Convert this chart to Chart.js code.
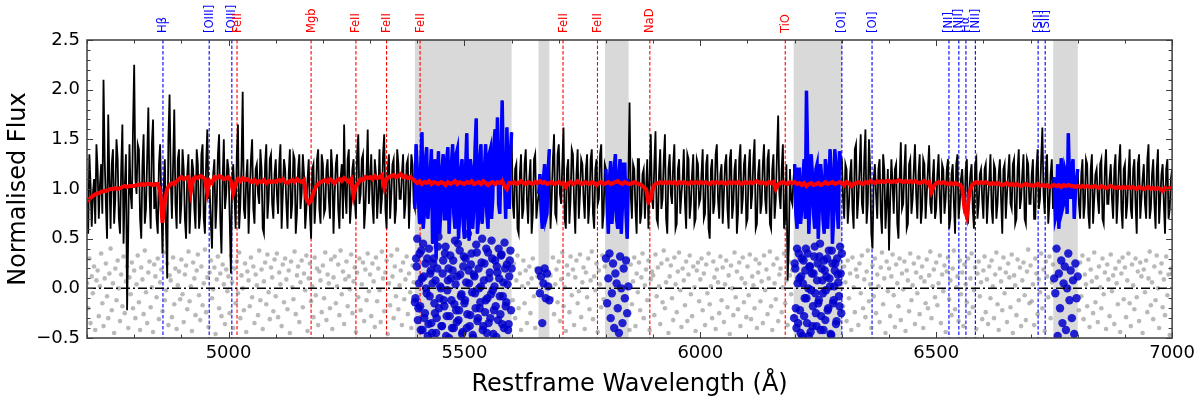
<!DOCTYPE html>
<html lang="en">
<head>
<meta charset="UTF-8">
<title>Spectrum fit</title>
<script src="https://cdn.jsdelivr.net/npm/chart.js"></script>
<style>
  html, body { margin: 0; padding: 0; background: #fff; }
</style>
</head>
<body>
<canvas id="specChart" width="1200" height="399"></canvas>

<script>
// observed spectrum, 5 A grid from 4700 to 7000
const waveStart = 4700;
const waveStep = 5;
const flux = [
  0.90,1.35,0.62,1.10,1.45,0.70,1.25,2.10,0.85,1.75,0.60,1.40,0.90,1.30,0.55,1.65,1.00,-0.22,1.45,0.80, // 4700
  2.25,0.95,1.40,0.50,1.55,0.80,1.82,0.60,1.70,1.05,0.55,1.45,0.35,1.30,0.10,1.95,0.70,1.80,0.60,1.40, // 4800
  0.85,1.20,0.50,1.35,0.90,1.20,0.60,1.25,0.75,1.45,0.55,1.60,1.00,0.40,1.30,0.85,1.55,0.35,1.50,0.95, // 4900
  1.20,0.15,1.25,0.60,1.65,0.85,1.98,0.70,1.30,0.95,1.50,0.65,1.25,0.85,1.20,0.55,1.45,0.90,1.35,0.70, // 5000
  1.30,0.75,1.45,0.95,1.20,0.60,1.40,0.85,1.30,0.75,1.35,0.95,1.15,0.80,1.30,0.50,1.25,0.90,1.40,0.65, // 5100
  1.25,0.80,1.30,0.70,1.20,0.95,1.35,0.60,1.25,1.65,0.75,1.40,0.85,1.30,0.70,1.55,0.95,1.35,0.80,1.60, // 5200
  1.10,0.85,1.30,0.70,1.40,0.90,1.55,0.60,1.35,0.95,1.30,0.80,1.25,0.90,1.35,0.85,1.30,0.95,1.25,0.80, // 5300
  1.20,0.65,1.57,0.75,1.42,0.90,1.40,0.55,0.31,1.38,0.80,1.35,0.70,1.42,0.85,1.45,0.60,1.40,0.75,1.30, // 5400
  0.50,1.56,0.48,1.20,0.80,1.71,0.70,1.45,0.85,1.45,0.60,1.40,0.90,1.60,1.72,0.75,1.89,1.10,1.62,0.80, // 5500
  1.57,0.70,1.25,0.55,1.35,0.80,1.40,0.65,1.30,0.75,1.35,0.85,1.15,0.60,1.25,0.75,1.40,0.90,1.55,0.70, // 5600
  1.45,0.85,1.62,0.60,1.30,0.90,1.35,0.55,1.40,0.95,1.25,0.70,1.35,0.85,1.40,0.60,1.30,0.90,1.45,0.75, // 5700
  1.20,0.55,1.28,0.80,1.35,0.60,1.30,0.85,1.25,0.50,1.87,0.70,1.20,0.55,1.30,0.75,1.20,1.00,0.60,1.55, // 5800
  0.80,1.58,0.65,1.40,0.90,1.55,0.55,1.35,0.85,1.45,0.65,1.30,0.95,1.40,0.60,1.30,0.85,1.35,0.70,1.25, // 5900
  0.90,1.40,0.75,1.35,0.50,1.30,0.85,1.45,0.70,1.25,0.95,1.35,0.60,1.40,0.85,1.30,0.75,1.45,0.90,1.35, // 6000
  0.70,1.40,0.95,1.50,0.65,1.30,0.85,1.45,0.75,1.40,0.60,1.35,0.90,1.74,0.80,1.45,0.70,0.08,1.20,0.85, // 6100
  1.25,0.60,1.20,0.80,1.30,1.99,0.55,1.35,0.75,1.20,0.50,1.25,0.70,1.30,0.60,1.40,0.45,1.40,0.80,1.38, // 6200
  1.30,0.70,1.20,0.85,1.30,0.60,1.45,0.90,1.55,0.75,1.60,0.85,1.20,0.40,1.25,0.70,1.30,0.55,1.20,0.85, // 6300
  0.38,1.30,0.75,1.25,0.50,1.47,0.85,1.45,0.65,1.30,0.90,1.45,0.70,1.35,0.80,1.25,0.95,1.44,0.75,1.30, // 6400
  0.80,1.35,0.65,1.20,0.90,1.30,0.70,1.25,0.55,1.35,0.85,1.20,0.75,1.30,0.95,1.25,0.60,1.30,0.85,1.20, // 6500
  0.70,1.25,0.90,1.35,0.65,1.20,0.85,1.30,0.55,1.25,0.95,1.35,0.80,1.30,0.70,1.40,0.90,1.35,0.65,1.25, // 6600
  0.85,1.30,0.70,1.40,0.90,1.62,0.75,1.35,0.85,1.30,1.12,0.75,0.60,1.31,0.85,1.15,1.56,0.90,1.30,0.95, // 6700
  1.20,0.70,1.30,0.85,1.25,0.60,1.35,0.90,1.20,0.75,1.30,0.65,1.40,0.85,1.25,0.70,1.35,0.90,1.45,0.60, // 6800
  1.25,0.85,1.40,0.70,1.30,0.55,1.35,0.90,1.25,0.70,1.45,0.80,1.30,0.60,1.40,0.90,1.25,0.55,1.30,0.80, // 6900
  1.20
];
// spectrum values half way between the points above (4702.5, 4707.5, ...)
const fluxHalf = [
  0.55,1.05,0.95,0.65,1.20,1.05,0.75,1.30,0.50,1.10,1.25,0.65,1.50,0.70,1.20,0.45,1.35,0.60,0.95,1.60, // 4700
  1.10,1.45,0.70,1.25,0.65,1.30,0.95,1.45,0.80,0.70,1.25,0.90,1.00,0.60,1.50,1.10,1.25,0.85,1.30,0.65, // 4800
  1.40,0.70,1.15,0.55,1.30,0.80,1.40,0.60,1.35,0.70,1.25,0.90,0.65,1.15,0.60,1.35,0.70,1.10,0.80,1.30, // 4900
  0.70,1.10,0.95,1.35,0.60,1.25,0.80,1.10,0.55,1.30,0.80,1.20,0.95,1.40,0.60,1.25,0.70,1.30,0.85,1.15, // 5000
  0.95,1.25,0.60,1.30,0.85,1.15,0.70,1.35,0.55,1.20,0.80,1.35,0.60,1.10,0.75,1.20,0.65,1.30,0.80,1.35, // 5100
  0.75,1.20,0.90,1.40,0.55,1.25,0.80,1.10,0.70,0.95,1.30,0.65,1.20,0.90,1.35,0.85,1.30,0.60,1.15,0.85, // 5200
  1.35,0.65,1.15,0.95,0.75,1.35,0.80,1.20,0.70,1.25,0.65,1.40,0.90,1.15,0.70,1.25,0.60,1.35,0.85,1.45, // 5300
  0.90,1.25,0.60,1.30,0.70,1.15,0.45,1.30,1.00,0.55,1.20,0.70,1.30,0.55,1.25,0.75,1.35,0.50,1.20,0.65, // 5400
  1.20,0.80,1.30,0.60,1.40,0.55,1.30,0.65,1.20,0.75,1.35,0.70,1.45,1.05,0.85,1.30,1.20,0.70,1.15,1.35, // 5500
  0.85,1.20,0.60,1.15,0.70,1.25,0.90,1.10,0.55,1.30,0.70,0.95,0.80,1.10,0.70,1.20,0.60,1.30,0.75,1.35, // 5600
  0.95,1.25,0.70,1.20,0.65,1.40,0.85,1.15,0.70,1.30,0.90,1.20,0.65,1.30,0.75,1.20,0.85,1.35,0.60,1.25, // 5700
  0.85,1.10,0.65,1.20,0.70,1.15,0.55,1.25,0.75,1.10,0.95,1.25,0.80,1.30,0.65,1.15,0.70,1.30,1.10,0.90, // 5800
  1.25,0.70,1.15,0.80,1.30,0.70,1.20,0.95,1.25,0.60,1.20,0.75,1.10,0.85,1.35,0.70,1.15,0.65,1.30,0.85, // 5900
  1.15,0.70,1.25,0.60,1.20,0.75,1.35,0.90,1.15,0.65,1.25,0.80,1.30,0.70,1.20,0.55,1.30,0.75,1.25,0.65, // 6000
  1.20,0.80,1.30,0.60,1.15,0.75,1.25,0.90,1.30,0.65,1.20,0.70,1.35,0.95,1.20,0.60,1.25,0.40,0.90,1.10, // 6100
  0.75,1.20,0.65,1.10,0.70,1.30,0.90,1.15,0.60,1.25,0.85,1.10,0.55,1.20,0.95,1.15,0.70,1.25,0.60,1.30, // 6200
  0.90,1.25,0.65,1.15,0.80,1.40,0.70,1.20,0.85,1.30,0.65,1.50,0.55,1.10,0.95,1.20,0.75,1.35,0.60,1.20, // 6300
  0.90,1.05,1.20,0.65,1.10,0.80,1.20,0.60,1.25,0.75,1.20,0.95,1.15,0.65,1.30,0.70,1.20,0.85,1.10,0.70, // 6400
  1.15,0.90,1.25,0.75,1.20,0.60,1.15,0.85,1.25,0.70,1.10,0.95,1.20,0.65,1.15,0.80,1.25,0.70,1.15,0.90, // 6500
  1.20,0.65,1.10,0.80,1.25,0.70,1.15,0.90,1.20,0.70,1.15,0.85,1.25,0.65,1.20,0.80,1.15,0.70,1.30,0.85, // 6600
  1.15,0.70,1.20,0.80,1.30,0.95,1.20,0.65,1.15,0.80,0.70,1.25,0.95,0.80,1.20,0.75,1.10,1.20,0.70,1.10, // 6700
  0.85,1.15,0.70,1.30,0.75,1.20,0.65,1.15,0.90,1.25,0.70,1.20,0.85,1.10,0.90,1.20,0.65,1.25,0.80,1.20, // 6800
  0.70,1.15,0.80,1.20,0.85,1.25,0.70,1.10,0.85,1.30,0.70,1.15,0.85,1.20,0.65,1.15,0.85,1.20,0.70,1.10  // 6900
];

// best-fit model, 5 A grid
const model = [
  0.88,0.90,0.92,0.94,0.95,0.96,0.97,0.98,0.98,0.99,1.00,1.00,1.01,1.00,1.01,1.02,1.03,1.02,1.03,1.03,
  1.03,1.04,1.04,1.05,1.04,1.05,1.05,1.05,1.04,1.05,1.05,0.98,0.66,0.88,1.00,1.04,1.06,1.05,1.08,1.10,
  1.12,1.10,1.11,1.12,0.97,1.10,1.12,1.11,1.13,1.12,1.10,0.96,1.08,1.06,1.12,1.11,1.13,1.12,1.10,1.11,
  1.12,1.08,0.96,1.05,1.10,1.08,1.11,1.09,1.10,1.08,1.07,1.09,1.06,1.08,1.07,1.09,1.06,1.08,1.07,1.08,
  1.07,1.09,1.08,1.10,1.07,1.06,1.08,1.09,1.07,1.10,1.08,1.07,1.09,0.90,0.86,0.88,0.96,1.02,1.05,1.07,
  1.08,1.09,1.07,1.10,1.08,1.06,1.09,1.10,1.08,1.11,1.09,1.07,1.10,0.93,1.03,1.06,1.10,1.09,1.12,1.11,
  1.12,1.10,1.13,1.11,1.12,1.14,1.02,1.10,1.12,1.13,1.14,1.12,1.13,1.15,1.12,1.13,1.11,1.12,1.10,1.08,
  1.06,1.08,1.05,1.07,1.06,1.08,1.05,1.07,1.06,1.05,1.07,1.06,1.04,1.07,1.05,1.06,1.08,1.05,1.07,1.06,
  1.05,1.07,1.06,1.08,1.05,1.06,1.07,1.05,1.08,1.06,1.04,1.06,1.07,1.05,1.07,1.06,1.08,1.03,1.00,1.06,
  1.06,1.07,1.05,1.06,1.08,1.06,1.05,1.07,1.06,1.05,1.07,1.06,1.08,1.06,1.07,1.05,1.06,1.07,1.05,1.06,
  1.07,1.05,1.06,1.02,1.06,1.07,1.05,1.06,1.08,1.06,1.05,1.07,1.06,1.05,1.07,1.06,1.04,1.06,1.07,1.05,
  1.06,1.07,1.05,1.06,1.07,1.08,1.06,1.05,1.07,1.06,1.05,1.06,1.07,1.06,1.05,1.04,1.02,1.00,0.87,0.90,
  1.02,1.05,1.06,1.07,1.06,1.07,1.06,1.07,1.06,1.07,1.05,1.07,1.06,1.07,1.06,1.05,1.07,1.06,1.07,1.06,
  1.07,1.06,1.07,1.06,1.05,1.07,1.06,1.07,1.06,1.07,1.06,1.05,1.07,1.06,1.07,1.06,1.07,1.05,1.06,1.07,
  1.06,1.07,1.06,1.07,1.08,1.06,1.07,1.06,1.05,1.07,1.06,1.07,1.00,1.05,1.06,1.07,1.06,1.05,1.07,1.06,
  1.07,1.05,1.06,1.04,1.06,1.03,1.05,1.06,1.04,1.05,1.06,1.04,1.05,1.07,1.05,1.06,1.07,1.05,1.06,1.07,
  1.06,1.04,1.07,1.06,1.03,1.05,1.06,1.07,1.06,1.05,1.07,1.06,1.08,1.07,1.06,1.08,1.07,1.08,1.07,1.08,
  1.08,1.07,1.08,1.07,1.09,1.08,1.07,1.08,1.07,1.08,1.07,1.08,1.07,1.06,1.07,1.08,1.06,1.07,0.97,1.03,
  1.06,1.07,1.06,1.07,1.06,1.05,1.06,1.05,1.06,1.05,1.04,1.02,0.80,0.72,0.95,1.03,1.06,1.07,1.06,1.07,
  1.06,1.07,1.06,1.05,1.06,1.05,1.06,1.05,1.04,1.05,1.06,1.04,1.05,1.04,1.05,1.04,1.03,1.04,1.05,1.04,
  1.04,1.03,1.04,1.05,1.03,1.04,1.03,1.04,1.02,1.03,1.04,1.03,1.04,1.02,1.04,1.03,1.04,1.03,1.03,1.02,
  1.03,1.02,1.03,1.02,1.03,1.02,1.02,1.03,1.02,1.01,1.03,1.02,1.01,1.02,1.03,1.02,1.01,1.02,1.01,1.02,
  1.01,1.02,1.01,1.02,1.01,1.00,1.02,1.01,1.00,1.01,1.02,1.00,1.01,1.00,1.01,1.00,0.98,1.01,1.00,1.01,
  1.00
];

// residuals, 2.5 A grid from 4700
const residStep = 2.5;
const resid = [
  .05,-.20,.30,-.35,.12,-.05,.22,-.42,.08,.18,-.28,.02,.35,-.15,-.38,.10,.25,-.08,-.30,.15,.40,-.22,.05,-.45,.20,-.12,.28,.00,-.33,.14,-.18,.32,-.25,.07,.22,-.40,.11,-.06,.26,-.20,
  .18,-.30,.04,.33,-.14,-.42,.21,.09,-.26,.38,-.04,-.35,.16,.27,-.19,.01,-.44,.24,.12,-.09,.30,-.31,.06,.19,-.23,.36,-.12,-.02,.25,-.37,.13,.08,-.29,.31,-.16,.20,-.41,.03,.17,-.11,
  .29,-.06,-.34,.14,.23,-.21,.37,-.13,.02,-.43,.26,.10,-.27,.18,.34,-.07,-.32,.22,-.17,.05,.39,-.24,.11,-.39,.16,.28,-.10,-.01,.21,-.46,.09,.32,-.20,.15,-.28,.24,.04,-.36,.19,-.03,
  .12,-.25,.33,.06,-.40,.20,-.15,.27,-.05,.36,-.30,.13,.00,-.22,.25,-.44,.17,.08,-.18,.31,-.09,.22,-.35,.14,.03,-.27,.38,-.12,.19,-.41,.07,.26,-.16,.34,-.04,-.31,.21,.11,-.23,.29,
  -.08,.35,-.29,.16,.04,-.38,.24,-.14,.30,.09,-.21,.18,-.45,.27,.01,-.11,.37,-.26,.13,.22,-.34,.06,.28,-.19,.15,-.02,.33,-.43,.10,.25,-.13,.02,-.29,.31,-.07,.20,-.37,.17,.08,-.24,
  .23,-.10,.36,-.32,.14,.05,-.20,.29,-.41,.11,.32,-.15,.02,.24,-.27,.38,-.06,.17,-.36,.09,.27,-.18,.12,-.01,.34,-.25,.07,.21,-.44,.16,-.09,.30,-.22,.04,.26,-.33,.19,-.12,.35,-.03,
  .14,-.28,.25,.07,-.39,.31,-.13,.20,-.02,-.34,.37,.10,-.23,.16,.28,-.46,.05,-.17,.33,.12,-.30,.22,-.08,.39,-.21,.03,.18,-.37,.26,-.11,.09,.32,-.26,.15,-.04,-.40,.23,.06,-.14,.30,
  .50,-.20,.35,-.42,.10,.45,-.30,.25,-.05,-.48,.40,.15,-.35,.05,.30,-.25,-.45,.20,.52,-.10,.00,-.38,.28,-.18,.42,-.28,.08,-.50,.33,-.12,.18,-.40,.48,-.22,.12,-.32,.38,-.08,-.46,.22,
  -.15,.30,-.40,.55,.05,-.27,.35,-.47,.14,-.05,.44,-.33,.20,-.20,.02,.50,-.38,.25,-.12,-.45,.36,.10,-.30,.48,-.02,-.22,.28,-.49,.16,.40,-.08,.33,-.36,.06,.46,-.18,.24,-.42,.12,.38,
  .20,-.12,.25,-.30,.08,.33,-.20,.15,-.42,.02,.28,-.15,.18,-.35,.05,.22,-.25,.10,.30,-.08,-.40,.20,.12,.18,-.05,.12,-.35,.05,.20,-.10,.15,.02,-.12,.13,-.10,.31,-.26,.04,.19,-.14,
  .27,-.33,.09,.36,-.18,.01,-.43,.23,.14,-.24,.32,-.07,.19,-.37,.11,.28,-.15,-.03,.34,-.29,.06,.21,-.41,.16,-.09,.30,-.21,.08,.37,-.31,.12,-.02,.25,-.44,.18,.04,-.19,.33,-.11,.22,
  .30,-.15,.10,.35,-.30,-.05,.25,-.40,.15,.05,-.20,-.45,.32,.00,-.35,.20,-.10,.28,-.25,.02,-.42,.24,-.16,.07,.31,-.38,.15,-.04,.26,-.22,.11,.35,-.30,.03,.19,-.12,.28,-.42,.09,.17,
  .13,-.27,.34,-.08,.21,.02,-.36,.25,-.14,.38,-.20,.06,.29,-.45,.12,.23,-.10,-.32,.31,.04,-.24,.17,.36,-.02,-.39,.20,.08,-.17,.27,-.33,.14,.33,-.06,-.28,.22,.01,-.43,.18,.26,-.13,
  .09,.30,-.22,.15,-.37,.24,-.05,.35,-.16,.02,-.30,.27,.11,-.41,.19,.06,-.25,.32,-.12,.21,-.34,.04,.28,-.19,.13,-.46,.23,.00,-.27,.36,-.09,.17,-.21,.26,-.38,.10,.31,-.14,.05,-.29,
  .22,-.07,.34,-.31,.12,.03,-.20,.29,-.40,.16,.25,-.13,.07,-.35,.33,-.02,.19,-.26,.10,.37,-.18,-.42,.24,.05,-.11,.30,-.33,.14,.20,-.24,.01,.35,-.15,.08,-.37,.27,.13,-.06,.18,-.28,
  .25,-.20,.40,-.35,.10,-.45,.30,.05,-.28,.18,-.10,.35,-.48,.22,-.02,-.38,.15,.42,-.25,.08,-.15,.32,-.42,.20,-.05,.28,-.32,.12,-.22,.38,.02,-.47,.25,-.12,.18,-.36,.30,.06,-.18,.15,
  .35,-.18,.22,.06,-.33,.28,-.10,.15,-.42,.31,.01,-.24,.19,.12,-.37,.25,-.05,.33,-.20,.09,-.29,.17,.38,-.13,.04,-.40,.23,-.08,.30,-.25,.14,.02,-.34,.21,.36,-.16,.10,-.45,.27,-.03,
  .20,-.28,.12,.34,-.07,-.39,.24,.05,-.18,.30,-.32,.15,-.01,.27,-.43,.18,.08,-.23,.35,-.12,.03,.25,-.36,.16,-.05,.31,-.26,.11,.22,-.40,.07,-.15,.29,-.20,.13,.37,-.30,.02,.19,-.09,
  .26,-.17,.05,.33,-.35,.14,-.03,.23,-.44,.17,.31,-.11,.08,-.27,.20,.38,-.21,.01,.12,-.33,.28,-.06,.16,-.38,.24,.04,-.14,.30,-.25,.10,.35,-.19,-.02,.21,-.41,.15,.27,-.08,.06,-.31,
  .18,.32,-.24,.09,-.36,.22,-.10,.28,.02,-.30,.14,.36,-.16,-.42,.20,.07,-.22,.31,-.05,.16,-.34,.25,.11,-.19,.34,-.45,.13,.03,-.27,.29,-.12,.21,-.38,.08,.26,-.07,-.32,.17,.39,-.15,
  .23,-.13,.04,-.37,.30,.15,-.26,.09,-.04,.35,-.20,.19,-.43,.27,.12,-.09,.32,-.30,.06,.24,.10,-.05,.40,-.48,.15,-.20,.28,-.35,.05,.22,-.42,.00,.35,-.12,.18,-.30,.08,-.46,.25,-.10,
  .12,-.22,.26,-.08,.33,-.31,.14,.04,-.18,.29,-.39,.19,.07,-.25,.36,-.14,.11,-.34,.22,.01,-.20,.30,-.06,.16,-.41,.24,.09,-.28,.34,-.03,.13,-.36,.20,.05,-.16,.27,-.44,.15,.31,-.11,
  .21,-.29,.08,.35,-.15,-.38,.24,.03,-.21,.30,-.09,.17,-.33,.26,.12,-.45,.19,-.04,.28,-.24,.10,.37,-.17,.06,-.31,.22,-.12,.33,.00,-.40,.16,.25,-.19,.09,-.27,.32,-.07,.14,-.47,.20,
  .15
];
// extra residual samples inside the two wide masked windows (offset by 1.25 A)
const residExtraAStart = 5396.25;
const residExtraA = [
  -.10,.22,-.32,.05,-.18,.38,-.42,.12,-.25,.00,.30,-.36,-.08,.18,-.45,.25,-.15,.08,-.30,.42,
  -.20,.02,-.38,.15,-.12,.35,-.48,-.02,.20,-.28,.10,-.40,.28,-.16,.04,-.34,.45,-.22,.14,-.06,
  -.44,.32,-.12,.06,-.26,.18,-.38,.24,-.04,-.50,.12,-.20,.36,-.30,.00,-.14,.26,-.42,.08,-.24,
  .40,-.10,-.35,.16,-.06,.30,-.46,.02,-.18,.22,-.32,.10,-.26,.34,-.08,-.40,.20,-.14,.04,-.36,
  .28,-.22
];
const residExtraBStart = 6198.75;
const residExtraB = [
  -.30,.20,-.40,.05,.35,-.22,.12,-.48,.28,-.10,.40,-.35,.00,.22,-.44,.15,-.18,.32,-.05,-.38,
  .25,-.12,.45,-.28,.08,-.42,.18,-.02,.30,-.20,.10,-.46,.38,-.15,.02,.25,-.33,.14,-.08,.42,
  -.25
];

// masked wavelength windows (grey bands)
const maskRanges = [[5395, 5600], [5657, 5680], [5798, 5848], [6198, 6300], [6748, 6800]];

// marked lines
const lineWaves = [4861, 4959, 5007, 5018, 5175, 5270, 5335, 5406, 5709, 5782, 5893, 6180, 6300, 6364, 6527, 6548, 6563, 6583, 6716, 6731];
const lineNames = ['Hβ', '[OIII]', '[OIII]', 'FeII', 'Mgb', 'FeII', 'FeII', 'FeII', 'FeII', 'FeII', 'NaD', 'TiO', '[OI]', '[OI]', '[NI]', '[NII]', 'Hα', '[NII]', '[SII]', '[SII]'];
const lineIsEmission = [true, true, true, false, false, false, false, false, false, false, false, false, true, true, true, true, true, true, true, true];

const xTicks = [5000, 5500, 6000, 6500, 7000];
const yTicks = [-0.5, 0, 0.5, 1, 1.5, 2, 2.5];

const inMask = w => maskRanges.some(([lo, hi]) => w >= lo && w <= hi);

// merge the two spectrum grids into one ordered list
const fluxPts = [];
flux.forEach((v, i) => {
  fluxPts.push({ x: waveStart + i * waveStep, y: v });
  if (i < fluxHalf.length) fluxPts.push({ x: waveStart + i * waveStep + waveStep / 2, y: fluxHalf[i] });
});
const maskedPts = fluxPts.map(p => ({ x: p.x, y: inMask(p.x) ? p.y : null }));
const modelPts = model.map((v, i) => ({ x: waveStart + i * waveStep, y: v }));
const residAll = resid.map((v, i) => ({ x: waveStart + i * residStep, y: v }));
const residPts = residAll.filter(p => !inMask(p.x));
const residMaskPts = residAll.filter(p => inMask(p.x))
  .concat(residExtraA.map((v, i) => ({ x: residExtraAStart + i * residStep, y: v })))
  .concat(residExtraB.map((v, i) => ({ x: residExtraBStart + i * residStep, y: v })));

const FONT = "'DejaVu Sans', 'Liberation Sans', sans-serif";

const overlay = {
  id: 'overlay',
  beforeDatasetsDraw(chart) {
    const { ctx, chartArea: a, scales: { x } } = chart;
    ctx.save();
    ctx.fillStyle = 'rgba(128,128,128,0.3)';
    maskRanges.forEach(([lo, hi]) => {
      const x0 = x.getPixelForValue(lo);
      const x1 = x.getPixelForValue(hi);
      ctx.fillRect(x0, a.top, x1 - x0, a.bottom - a.top);
    });
    ctx.lineWidth = 1.1;
    ctx.setLineDash([3.5, 2]);
    lineWaves.forEach((w, i) => {
      const px = x.getPixelForValue(w);
      ctx.strokeStyle = lineIsEmission[i] ? '#0000ff' : '#ff0000';
      ctx.beginPath();
      ctx.moveTo(px, a.top);
      ctx.lineTo(px, a.bottom);
      ctx.stroke();
    });
    ctx.restore();
  },
  afterDatasetsDraw(chart) {
    const { ctx, chartArea: a, scales: { y } } = chart;
    const y0 = y.getPixelForValue(0);
    ctx.save();
    ctx.strokeStyle = '#000';
    ctx.lineWidth = 1.5;
    ctx.setLineDash([9, 3, 2, 3]);
    ctx.beginPath();
    ctx.moveTo(a.left, y0);
    ctx.lineTo(a.right, y0);
    ctx.stroke();
    ctx.restore();
  },
  afterDraw(chart) {
    const { ctx, chartArea: a, scales: { x, y } } = chart;
    ctx.save();
    // frame
    ctx.strokeStyle = '#3c3c3c';
    ctx.lineWidth = 1.5;
    ctx.strokeRect(a.left, a.top, a.right - a.left, a.bottom - a.top);
    // inward ticks on all four sides
    ctx.lineWidth = 1;
    ctx.beginPath();
    for (let w = 4700; w <= 7000; w += 100) {
      const px = Math.round(x.getPixelForValue(w)) + 0.5;
      const len = w % 500 === 0 ? 6 : 3.5;
      ctx.moveTo(px, a.bottom); ctx.lineTo(px, a.bottom - len);
      ctx.moveTo(px, a.top); ctx.lineTo(px, a.top + len);
    }
    for (let k = -5; k <= 25; k++) {
      const py = Math.round(y.getPixelForValue(k / 10)) + 0.5;
      const len = k % 5 === 0 ? 6 : 3.5;
      ctx.moveTo(a.left, py); ctx.lineTo(a.left + len, py);
      ctx.moveTo(a.right, py); ctx.lineTo(a.right - len, py);
    }
    ctx.stroke();
    // line labels above the frame
    ctx.font = '11.5px ' + FONT;
    ctx.textAlign = 'left';
    ctx.textBaseline = 'middle';
    lineWaves.forEach((w, i) => {
      const px = x.getPixelForValue(w);
      ctx.save();
      ctx.translate(px + 0.5, a.top - 7);
      ctx.rotate(-Math.PI / 2);
      ctx.fillStyle = lineIsEmission[i] ? '#0000ff' : '#ff0000';
      ctx.fillText(lineNames[i], 0, 0);
      ctx.restore();
    });
    ctx.restore();
  }
};

new Chart(document.getElementById('specChart'), {
  type: 'scatter',
  data: {
    datasets: [
      { label: 'model', data: modelPts, showLine: true, borderColor: '#ff0000', borderWidth: 4, pointRadius: 0, pointHoverRadius: 0, order: 1 },
      { label: 'masked', data: maskedPts, showLine: true, borderColor: '#0000ff', borderWidth: 3.5, pointRadius: 0, pointHoverRadius: 0, spanGaps: false, order: 2 },
      { label: 'flux', data: fluxPts, showLine: true, borderColor: '#000000', borderWidth: 1.8, pointRadius: 0, pointHoverRadius: 0, order: 3 },
      { label: 'resid masked', data: residMaskPts, pointRadius: 4.2, backgroundColor: 'rgba(0,0,205,0.85)', borderWidth: 0, order: 4 },
      { label: 'resid', data: residPts, pointRadius: 2.3, backgroundColor: 'rgba(128,128,128,0.55)', borderWidth: 0, order: 5 }
    ]
  },
  options: {
    responsive: false,
    animation: false,
    devicePixelRatio: 1,
    layout: { padding: { top: 40, right: 27, left: 0, bottom: 0 } },
    plugins: { legend: { display: false }, tooltip: { enabled: false } },
    elements: { line: { tension: 0 } },
    scales: {
      x: {
        type: 'linear', min: 4700, max: 7000,
        grid: { display: false, drawTicks: false },
        border: { display: false },
        afterBuildTicks: s => { s.ticks = xTicks.map(v => ({ value: v })); },
        afterFit: s => { s.height = 61; },
        ticks: { padding: 5, color: '#000', font: { family: FONT, size: 18 }, callback: v => String(v), maxRotation: 0 },
        title: { display: true, text: 'Restframe Wavelength (Å)', color: '#000', font: { family: FONT, size: 24 }, padding: { top: 1, bottom: 0 } }
      },
      y: {
        min: -0.5, max: 2.5,
        grid: { display: false, drawTicks: false },
        border: { display: false },
        afterBuildTicks: s => { s.ticks = yTicks.map(v => ({ value: v })); },
        afterFit: s => { s.width = 87; },
        ticks: { padding: 7, color: '#000', font: { family: FONT, size: 18 }, callback: v => (v < 0 ? '\u2212' + Math.abs(v).toFixed(1) : v.toFixed(1)) },
        title: { display: true, text: 'Normalised Flux', color: '#000', font: { family: FONT, size: 24 }, padding: { top: 4, bottom: 0 } }
      }
    }
  },
  plugins: [overlay]
});
</script>
</body>
</html>
